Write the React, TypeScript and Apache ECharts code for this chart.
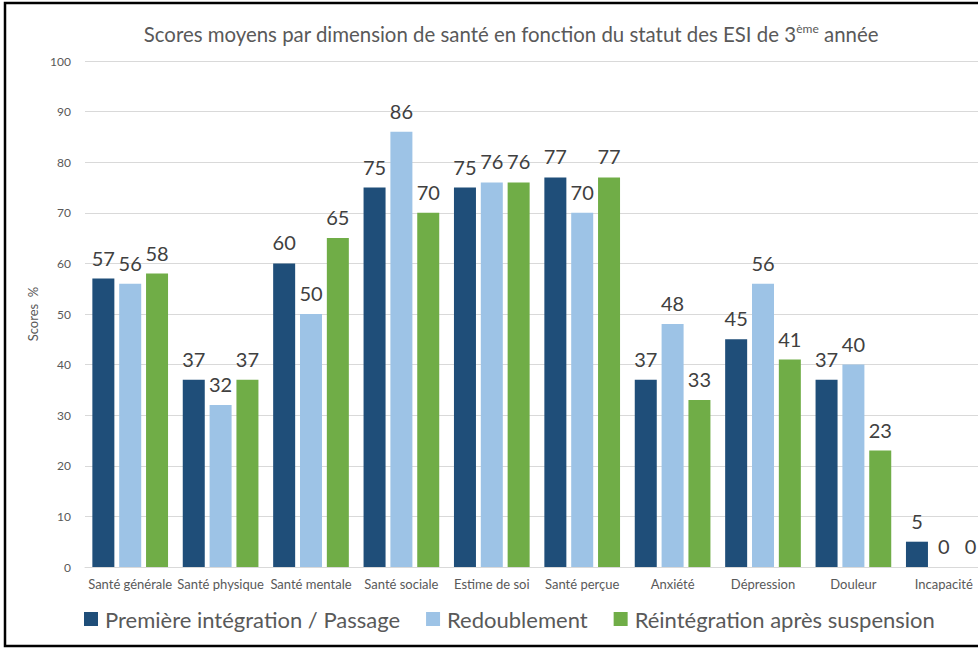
import React, { useEffect, useRef } from "react";
import * as echarts from "echarts";

const categories = [
  "Santé générale", "Santé physique", "Santé mentale", "Santé sociale", "Estime de soi",
  "Santé perçue", "Anxiété", "Dépression", "Douleur", "Incapacité",
];
const seriesNames = ["Première intégration / Passage", "Redoublement", "Réintégration après suspension"];
const premiere = [57, 37, 60, 75, 75, 77, 37, 45, 37, 5];
const redoublement = [56, 32, 50, 86, 76, 70, 48, 56, 40, 0];
const reintegration = [58, 37, 65, 70, 76, 77, 33, 41, 23, 0];
const colors = ["#1F4E79", "#9DC3E6", "#70AD47"];

const FONT = "Lato, 'Noto Sans', sans-serif";

export default function App() {
  const ref = useRef<HTMLDivElement>(null);
  useEffect(() => {
    document.body.style.margin = "0";
    const chart = echarts.init(ref.current!, null, { renderer: "svg" });
    const data = [premiere, redoublement, reintegration];
    chart.setOption({
      animation: false,
      textStyle: { fontFamily: FONT },
      title: {
        text: "{m|Scores moyens par dimension de santé en fonction du statut des ESI de 3}{s|ème}{m| année}",
        left: 506,
        textAlign: "center",
        top: 17,
        textStyle: {
          fontWeight: "normal",
          rich: {
            m: { fontSize: 20.4, color: "#595959", fontFamily: FONT, fontWeight: "normal", lineHeight: 24 },
            s: { fontSize: 12, color: "#595959", fontFamily: FONT, fontWeight: "normal", verticalAlign: "top", lineHeight: 24, padding: [0, 0, 9, 0] },
          },
        },
      },
      legend: {
        bottom: 15,
        left: 79,
        itemWidth: 14,
        itemHeight: 14,
        itemGap: 26,
        icon: "rect",
        textStyle: { fontSize: 22, color: "#595959", fontFamily: FONT, padding: [0, 0, 0, 2] },
        data: seriesNames,
      },
      grid: { left: 85, right: 11, top: 61, bottom: 83 },
      xAxis: {
        type: "category",
        data: categories,
        axisLine: { lineStyle: { color: "#D9D9D9", width: 1 } },
        axisTick: { show: false },
        axisLabel: { color: "#595959", fontSize: 13, margin: 10, interval: 0, fontFamily: FONT },
      },
      yAxis: {
        type: "value",
        min: 0,
        max: 100,
        interval: 10,
        name: "Scores  %",
        nameLocation: "middle",
        nameGap: 38,
        nameRotate: 90,
        nameTextStyle: { color: "#595959", fontSize: 13, fontFamily: FONT },
        axisLine: { show: false },
        axisTick: { show: false },
        axisLabel: { color: "#595959", fontSize: 12, margin: 14, fontFamily: FONT },
        splitLine: { lineStyle: { color: "#D9D9D9", width: 1 } },
      },
      series: seriesNames.map((name, i) => ({
        name,
        type: "bar",
        data: data[i],
        barWidth: 22,
        barGap: "22%",
        itemStyle: { color: colors[i] },
        label: {
          show: true,
          position: "top",
          distance: 11,
          color: "#404040",
          fontSize: 20,
          fontFamily: FONT,
        },
      })),
      graphic: [
        {
          type: "rect",
          shape: { x: 5, y: 3, width: 1010, height: 643 },
          style: { fill: "none", stroke: "#000", lineWidth: 2.5 },
          silent: true,
          z: 100,
        },
      ],
    });
    return () => chart.dispose();
  }, []);
  return (
    <div style={{ width: 978, height: 650, overflow: "hidden", position: "relative" }}>
      <div ref={ref} style={{ width: 1000, height: 650 }} />
    </div>
  );
}
